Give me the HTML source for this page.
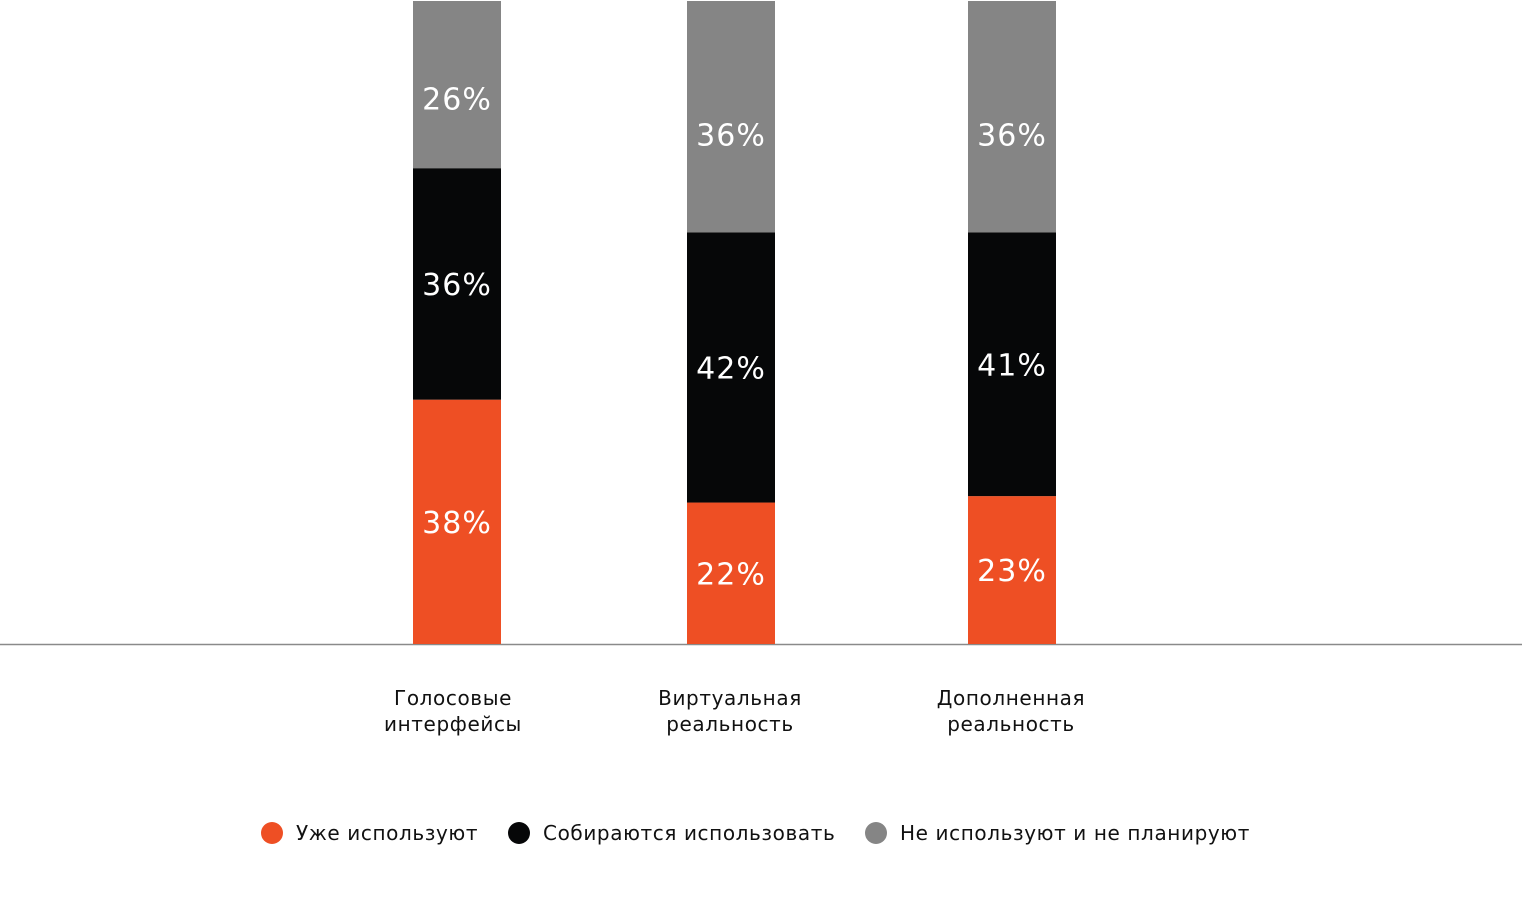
<!DOCTYPE html>
<html><head><meta charset="utf-8">
<style>
html,body{margin:0;padding:0;background:#fff;}
svg{display:block;font-family:"DejaVu Sans","Liberation Sans",sans-serif;}
</style></head>
<body>
<svg id="chart" width="1522" height="900" viewBox="0 0 1522 900">
<line x1="0" y1="644.5" x2="1522" y2="644.5" stroke="#8a8a8a" stroke-width="1.5"/>
<g id="bars"></g>
<g id="cats"></g>
<g id="legend"></g>
</svg>
<script>
const categories = [["Голосовые","интерфейсы"],["Виртуальная","реальность"],["Дополненная","реальность"]];
const usingNow = [38, 22, 23];
const planning = [36, 42, 41];
const notPlanning = [26, 36, 36];
const seriesNames = ["Уже используют","Собираются использовать","Не используют и не планируют"];
const colors = ["#ee4f24","#060708","#858585"];
const barCenters = [457, 731, 1012];
const baseY = 644, pxPerPct = 6.43, barW = 88;
const yScale = v => baseY - v * pxPerPct;
const NS = "http://www.w3.org/2000/svg";
const bars = document.getElementById("bars");
const series = [usingNow, planning, notPlanning];
const segNames = ["using-now","planning","not-planning"];
categories.forEach((c, i) => {
  let cum = 0;
  series.forEach((s, k) => {
    const v = s[i];
    const y0 = yScale(cum), y1 = yScale(cum + v);
    const r = document.createElementNS(NS, "rect");
    r.setAttribute("x", barCenters[i] - barW/2);
    r.setAttribute("y", y1);
    r.setAttribute("width", barW);
    r.setAttribute("height", y0 - y1);
    r.setAttribute("fill", colors[k]);
    
    
    bars.appendChild(r);
    const t = document.createElementNS(NS, "text");
    let ly = (y0 + y1) / 2 + 11;
    if (k === 2) ly += (y0 - y1) > 200 ? 18 : 14;
    t.setAttribute("x", barCenters[i]);
    t.setAttribute("y", ly);
    t.setAttribute("text-anchor", "middle");
    t.setAttribute("fill", "#fff");
    t.setAttribute("font-size", "30");
    t.setAttribute("letter-spacing", "1");
    t.textContent = v + "%";
    
    
    bars.appendChild(t);
    cum += v;
  });
});
const cats = document.getElementById("cats");
const catX = [453, 730, 1011];
categories.forEach((c, i) => {
  c.forEach((line, j) => {
    const t = document.createElementNS(NS, "text");
    t.setAttribute("x", catX[i]);
    t.setAttribute("y", 705 + j * 26);
    t.setAttribute("text-anchor", "middle");
    t.setAttribute("font-size", "20");
    t.setAttribute("letter-spacing", "0.6");
    t.setAttribute("fill", "#111");
    t.textContent = line;
    
    
    cats.appendChild(t);
  });
});
const legend = document.getElementById("legend");
const legX = [272, 519, 876];
seriesNames.forEach((n, k) => {
  const c = document.createElementNS(NS, "circle");
  c.setAttribute("cx", legX[k]);
  c.setAttribute("cy", 833);
  c.setAttribute("r", 11);
  c.setAttribute("fill", colors[k]);
  
  
  legend.appendChild(c);
  const t = document.createElementNS(NS, "text");
  t.setAttribute("x", legX[k] + 24);
  t.setAttribute("y", 840);
  t.setAttribute("font-size", "20");
  t.setAttribute("letter-spacing", "0.6");
  t.setAttribute("fill", "#111");
  t.textContent = n;
  
  
  legend.appendChild(t);
});
</script>
</body></html>
